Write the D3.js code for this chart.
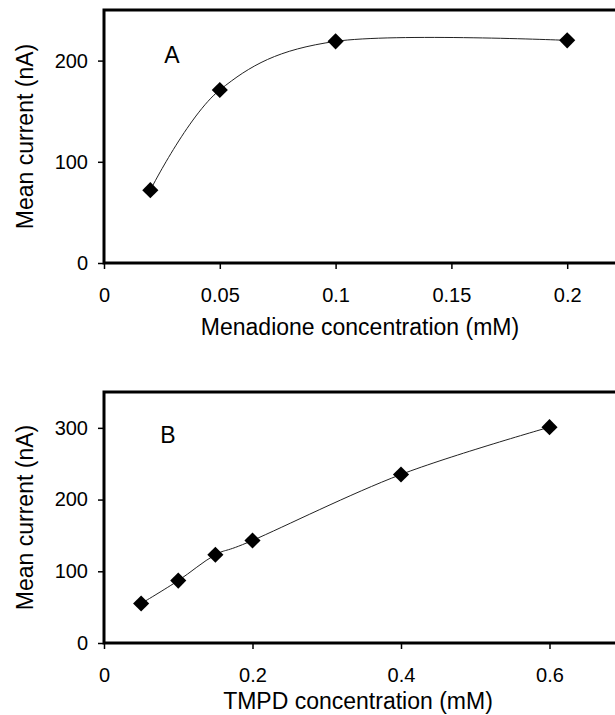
<!DOCTYPE html>
<html>
<head>
<meta charset="utf-8">
<script src="https://cdn.jsdelivr.net/npm/d3@7"></script>
<style>
  body { margin: 0; background: #fff; }
  svg text { font-family: "Liberation Sans", Arial, sans-serif; fill: #000; }
</style>
</head>
<body>
<svg id="chart" width="615" height="715"></svg>
<script>
// ---- data ----
const menadioneConc = [0.02, 0.05, 0.1, 0.2];          // mM
const menadioneCurrent = [72, 171, 219, 220];          // nA
const tmpdConc = [0.05, 0.1, 0.15, 0.2, 0.4, 0.6];     // mM
const tmpdCurrent = [55, 87, 123, 143, 235, 301];      // nA

const xTicksA = [0, 0.05, 0.1, 0.15, 0.2];
const yTicksA = [0, 100, 200];
const xTicksB = [0, 0.2, 0.4, 0.6];
const yTicksB = [0, 100, 200, 300];

const yLabel = 'Mean current (nA)';

const svg = d3.select('#chart');

// one panel = framed plot area + axes + smoothed line + diamonds
function drawPanel(p) {
  const x = d3.scaleLinear().domain(p.xDomain).range([p.left, p.right]);
  const y = d3.scaleLinear().domain(p.yDomain).range([p.bottom, p.top]);
  const g = svg.append('g');

  // ticks (outside), axis lines come from the frame
  const xAxis = g.append('g')
    .attr('transform', 'translate(0,' + p.bottom + ')')
    .call(d3.axisBottom(x).tickValues(p.xTicks).tickFormat(d => d).tickSize(6).tickPadding(19));
  const yAxis = g.append('g')
    .attr('transform', 'translate(' + p.left + ',0)')
    .call(d3.axisLeft(y).tickValues(p.yTicks).tickFormat(d => d).tickSize(6).tickPadding(10));
  [xAxis, yAxis].forEach(a => {
    a.select('.domain').remove();
    a.selectAll('line').attr('stroke', '#000').attr('stroke-width', 1.5);
    a.selectAll('text').style('font-size', '20px').attr('fill', '#000');
  });

  // plot frame (right side runs past the picture edge)
  g.append('rect')
    .attr('x', p.left).attr('y', p.top)
    .attr('width', p.right - p.left).attr('height', p.bottom - p.top)
    .attr('fill', 'none').attr('stroke', '#000').attr('stroke-width', 3);

  const pts = p.xs.map((v, i) => [v, p.ys[i]]);

  g.append('path')
    .datum(pts)
    .attr('fill', 'none')
    .attr('stroke', '#222')
    .attr('stroke-width', 1)
    .attr('d', d3.line().x(d => x(d[0])).y(d => y(d[1])).curve(d3.curveCardinal));

  g.selectAll('path.pt')
    .data(pts)
    .enter()
    .append('path')
    .attr('class', 'pt')
    .attr('d', d3.symbol(d3.symbolSquare, 130))
    .attr('transform', d => 'translate(' + x(d[0]) + ',' + y(d[1]) + ') rotate(45)')
    .attr('fill', '#000');

  // panel letter
  g.append('text')
    .attr('x', p.letterX).attr('y', p.letterY)
    .attr('text-anchor', 'middle')
    .style('font-size', '23px')
    .text(p.letter);

  // axis titles
  g.append('text')
    .attr('x', p.titleX).attr('y', p.titleY)
    .attr('text-anchor', 'middle')
    .style('font-size', '23px')
    .text(p.xLabel);

  g.append('text')
    .attr('transform', 'translate(33,' + (p.top + p.bottom) / 2 + ') rotate(-90)')
    .attr('text-anchor', 'middle')
    .style('font-size', '23px')
    .text(yLabel);
}

drawPanel({
  xs: menadioneConc, ys: menadioneCurrent,
  xDomain: [0, 0.25], yDomain: [0, 250],
  xTicks: xTicksA, yTicks: yTicksA,
  left: 104, right: 683, top: 10, bottom: 263,
  letter: 'A', letterX: 172, letterY: 63,
  xLabel: 'Menadione concentration (mM)', titleX: 360, titleY: 335
});

drawPanel({
  xs: tmpdConc, ys: tmpdCurrent,
  xDomain: [0, 0.8], yDomain: [0, 350],
  xTicks: xTicksB, yTicks: yTicksB,
  left: 104, right: 698, top: 392, bottom: 643,
  letter: 'B', letterX: 168, letterY: 443,
  xLabel: 'TMPD concentration (mM)', titleX: 358, titleY: 709
});
</script>
</body>
</html>
